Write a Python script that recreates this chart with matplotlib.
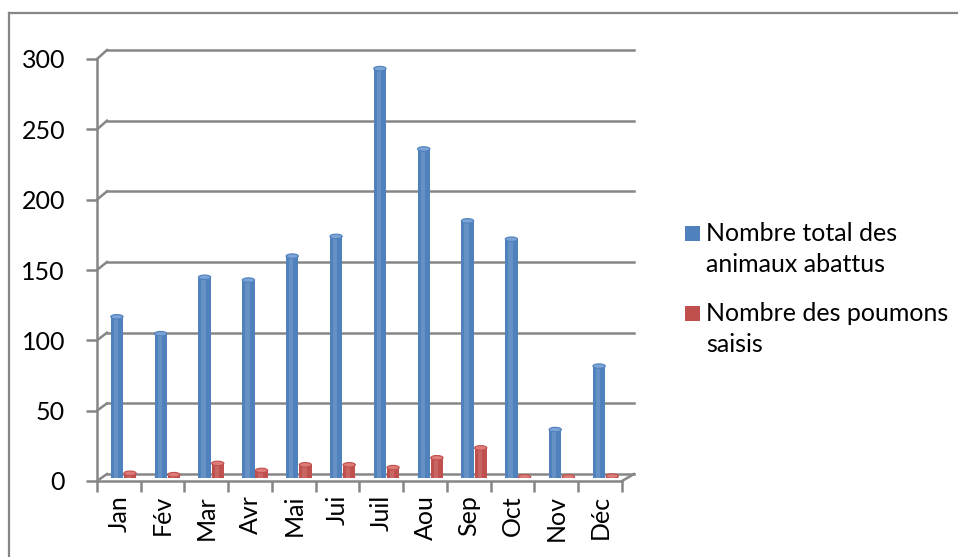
import numpy as np
import matplotlib
matplotlib.use("Agg")
import matplotlib.pyplot as plt
from matplotlib.patches import Ellipse, Rectangle
from matplotlib.lines import Line2D
from matplotlib.transforms import IdentityTransform

plt.rcParams['font.family'] = ['Lato', 'DejaVu Sans']

months = ['Jan', 'Fév', 'Mar', 'Avr', 'Mai', 'Jui', 'Juil', 'Aou', 'Sep', 'Oct', 'Nov', 'Déc']
total_abattus = [114, 102, 142, 140, 157, 171, 290, 233, 182, 169, 34, 79]
poumons_saisis = [3, 2, 10, 5, 9, 9, 7, 14, 21, 0.5, 0.5, 1]
series_names = ['Nombre total des\nanimaux abattus', 'Nombre des poumons\nsaisis']
series_colors = ['#4F81BD', '#C0504D']
top_colors = ['#7BA3D6', '#DC7B78']
yticks = [0, 50, 100, 150, 200, 250, 300]

W, H = 958, 557
grey = '#868686'


def rect(x0, y0, x1, y1):
    # pixel box (top-left origin) -> figure fraction
    return [x0 / W, 1 - y1 / H, (x1 - x0) / W, (y1 - y0) / H]


fig = plt.figure(figsize=(W / 100, H / 100), dpi=100)

# chart area border (only top and left visible)
fig.add_artist(Line2D([9 / W, 1], [1 - 13 / H] * 2, color=grey, lw=1.6))
fig.add_artist(Line2D([9 / W] * 2, [0, 1 - 13 / H], color=grey, lw=1.6))

n = len(months)

# back wall
wall = fig.add_axes(rect(107, 50, 634, 474))
wall.set_xlim(0, n)
wall.set_ylim(0, 300)
for v in yticks:
    wall.axhline(v, color=grey, lw=1.8, clip_on=False)
wall.set_axis_off()

# front axis
front = fig.add_axes(rect(97, 59, 622, 481))
front.set_xlim(-0.5, n - 0.5)
front.set_ylim(0, 300)
front.patch.set_alpha(0)
for s in ['top', 'right']:
    front.spines[s].set_visible(False)
for s in ['left', 'bottom']:
    front.spines[s].set_color(grey)
    front.spines[s].set_linewidth(1.8)
front.set_yticks(yticks)
front.set_xticks(np.arange(n))
front.set_xticklabels(months, rotation=90)
front.set_xticks(np.arange(n + 1) - 0.5, minor=True)
front.tick_params(axis='y', length=8, width=1.8, color=grey, labelsize=18, pad=15)
front.tick_params(axis='x', which='major', length=0, labelsize=18, pad=10)
front.tick_params(axis='x', which='minor', length=8, width=1.8, color=grey)

# depth edges linking front axis and back wall
fig.canvas.draw()
edges = [((-0.5, v), (0, v)) for v in yticks] + [((n - 0.5, 0), (n, 0))]
for pf, pw in edges:
    a = front.transData.transform(pf)
    b = wall.transData.transform(pw)
    fig.add_artist(Line2D([a[0], b[0]], [a[1], b[1]], color=grey, lw=1.8,
                          transform=IdentityTransform()))

# bars at mid depth
bars = fig.add_axes(rect(102, 54.5, 628, 477.5))
bars.set_xlim(-0.5, n - 0.5)
bars.set_ylim(0, 300)
bars.set_axis_off()
bars.patch.set_alpha(0)

x = np.arange(n)
bw = 0.28
offsets = [-0.16, 0.14]
for vals, off, col, tcol in zip([total_abattus, poumons_saisis], offsets, series_colors, top_colors):
    bars.bar(x + off, vals, width=bw, color=col, edgecolor='none', zorder=2)
    bars.bar(x + off - bw * 0.08, vals, width=bw * 0.35, color='white', alpha=0.13,
             edgecolor='none', zorder=3)
    for xi, v in zip(x, vals):
        bars.add_patch(Ellipse((xi + off, v), bw, 3.2, facecolor=tcol,
                               edgecolor=col, lw=0.8, zorder=4))
        bars.add_patch(Ellipse((xi + off, 0), bw, 3.2, facecolor=col,
                               edgecolor='none', zorder=1))

# legend
ys = [234, 314]
for name, col, yl in zip(series_names, series_colors, ys):
    fig.add_artist(Rectangle((685 / W, 1 - (yl + 7) / H), 15 / W, 15 / H,
                             facecolor=col, edgecolor='none'))
    fig.text(706 / W, 1 - (yl - 12) / H, name, fontsize=18, va='top', ha='left',
             linespacing=1.42)

fig.savefig('out.png', dpi=100)
